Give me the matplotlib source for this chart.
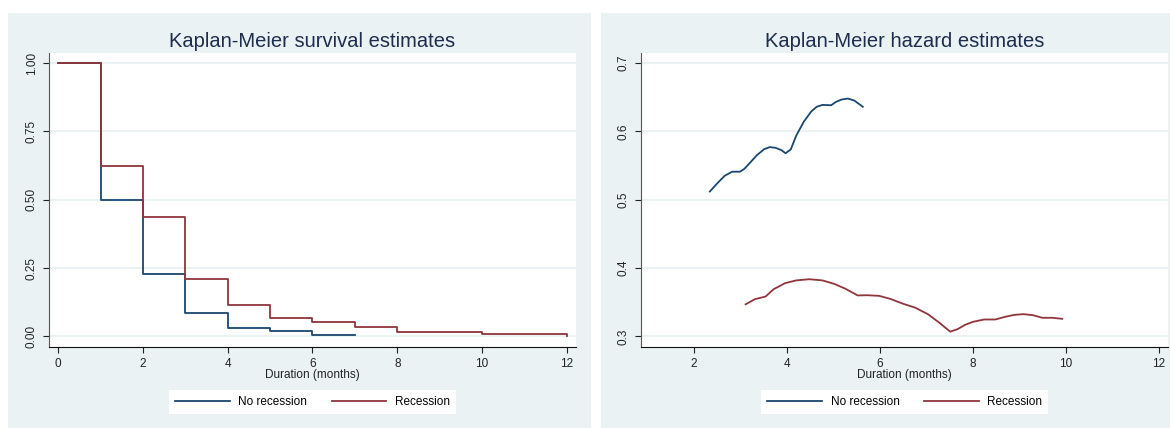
import numpy as np
import matplotlib
matplotlib.use('Agg')
import matplotlib.pyplot as plt
from matplotlib.patches import Rectangle

PANEL_BG = '#EAF2F3'
NAVY = '#1A476F'
MAROON = '#90353B'
TITLE_COLOR = '#1E2D4F'

# survival step functions (value holds from t[i] to t[i+1])
surv_t_norec = [0, 1, 2, 3, 4, 5, 6, 7]
surv_s_norec = [1.0, 0.499, 0.229, 0.087, 0.032, 0.018, 0.004, 0.004]
surv_t_rec = [0, 1, 2, 3, 4, 5, 6, 7, 8, 10, 12]
surv_s_rec = [1.0, 0.624, 0.438, 0.210, 0.114, 0.069, 0.052, 0.034, 0.016, 0.0085, 0.0]

# smoothed hazard estimates
haz_t_norec = [2.34, 2.50, 2.66, 2.82, 2.99, 3.08, 3.19, 3.35, 3.51, 3.63, 3.75,
               3.88, 3.97, 4.08, 4.20, 4.36, 4.52, 4.64, 4.76, 4.95, 5.05, 5.17,
               5.31, 5.45, 5.63]
haz_h_norec = [0.512, 0.524, 0.535, 0.541, 0.541, 0.545, 0.553, 0.565, 0.574,
               0.577, 0.576, 0.5725, 0.568, 0.5735, 0.594, 0.614, 0.629, 0.636,
               0.6387, 0.6382, 0.643, 0.6465, 0.648, 0.645, 0.636]
haz_t_rec = [3.11, 3.31, 3.54, 3.71, 3.96, 4.20, 4.48, 4.76, 5.01, 5.25, 5.52,
             5.73, 5.98, 6.22, 6.50, 6.75, 7.03, 7.27, 7.51, 7.67, 7.83, 8.00,
             8.24, 8.48, 8.69, 8.89, 9.09, 9.29, 9.49, 9.70, 9.92]
haz_h_rec = [0.347, 0.3545, 0.3584, 0.369, 0.378, 0.382, 0.3837, 0.382, 0.377,
             0.370, 0.360, 0.3603, 0.3594, 0.355, 0.3477, 0.3423, 0.3326, 0.3204,
             0.307, 0.3107, 0.317, 0.3214, 0.3248, 0.3248, 0.3287, 0.3316,
             0.3326, 0.3311, 0.3273, 0.3273, 0.3258]

labels = ['No recession', 'Recession']
surv_yticks = [0.0, 0.25, 0.5, 0.75, 1.0]
haz_yticks = [0.3, 0.4, 0.5, 0.6, 0.7]

plt.rc('font', family=['Liberation Sans', 'DejaVu Sans'], size=8.5)

W, H = 1170, 428
fig = plt.figure(figsize=(W / 100, H / 100), dpi=100)
fig.patch.set_facecolor('white')

# panel backgrounds (pixels -> figure fraction)
for x0, x1 in [(8, 591), (601, 1170)]:
    fig.patches.append(Rectangle((x0 / W, 0), (x1 - x0) / W, (H - 12.7) / H,
                                 transform=fig.transFigure, facecolor=PANEL_BG,
                                 edgecolor='none', zorder=-5))


def style_axes(ax, yticks, fmt, title, xticks):
    ax.set_facecolor('white')
    for s in ['top', 'right']:
        ax.spines[s].set_visible(False)
    ax.spines['left'].set_color('#555555')
    ax.spines['bottom'].set_color('#111111')
    ax.set_yticks(yticks)
    ax.set_yticklabels([fmt.format(v) for v in yticks], rotation=90, va='center')
    ax.set_xticks(xticks)
    ax.tick_params(axis='both', direction='out', length=4.3, width=0.8,
                   colors='#222222', labelsize=8.5)
    ax.tick_params(axis='y', pad=4)
    ax.tick_params(axis='x', pad=3.5)
    for v in yticks:
        ax.axhline(v, color=PANEL_BG, lw=1.5, zorder=1)
    ax.set_title(title, fontsize=14.5, color=TITLE_COLOR, pad=4.5)
    ax.set_xlabel('Duration (months)', fontsize=8.5, color='#222222')
    ax.xaxis.set_label_coords(0.5, -0.075)
    pos = ax.get_position()
    leg = ax.legend(loc='center', ncol=2,
                    bbox_to_anchor=(pos.x0 + pos.width / 2, 26.3 / H),
                    bbox_transform=fig.transFigure, frameon=True, fancybox=False,
                    handlelength=4.65, handletextpad=0.74, columnspacing=2.05,
                    borderpad=0.5, fontsize=8.5)
    leg.get_frame().set_facecolor('white')
    leg.get_frame().set_edgecolor('none')
    leg.get_frame().set_alpha(1.0)


def ax_rect(x0, x1):
    return [x0 / W, (H - 346.7) / H, (x1 - x0) / W, 293.4 / H]


# survival panel
ax1 = fig.add_axes(ax_rect(49.3, 575.7))
ax1.step(surv_t_norec, surv_s_norec, where='post', color=NAVY, lw=1.3,
         label=labels[0], zorder=3)
ax1.step(surv_t_rec, surv_s_rec, where='post', color=MAROON, lw=1.3,
         label=labels[1], zorder=3)
ax1.set_xlim(-0.21, 12.21)
ax1.set_ylim(-0.0376, 1.0354)
style_axes(ax1, surv_yticks, '{:.2f}', 'Kaplan-Meier survival estimates',
           [0, 2, 4, 6, 8, 10, 12])

# hazard panel
ax2 = fig.add_axes(ax_rect(641, 1168.3))
ax2.plot(haz_t_norec, haz_h_norec, color=NAVY, lw=1.3, label=labels[0], zorder=3)
ax2.plot(haz_t_rec, haz_h_rec, color=MAROON, lw=1.3, label=labels[1], zorder=3)
ax2.set_xlim(0.86, 12.2)
ax2.set_ylim(0.285, 0.7142)
style_axes(ax2, haz_yticks, '{:.1f}', 'Kaplan-Meier hazard estimates',
           [2, 4, 6, 8, 10, 12])

fig.savefig('out.png', dpi=100, facecolor='white')
